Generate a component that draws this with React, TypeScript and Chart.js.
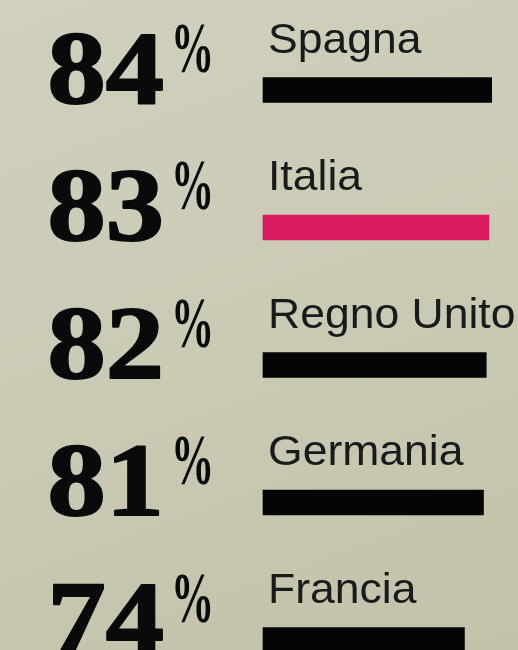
import React, { useEffect, useRef } from "react";
import { Chart, registerables } from "chart.js";

Chart.register(...registerables);

const categories = ["Spagna", "Italia", "Regno Unito", "Germania", "Francia"];
const values = [84, 83, 82, 81, 74];
const barColors = ["#050505", "#dc1a62", "#050505", "#050505", "#050505"];
const valueSuffix = "%";

const labelPlugin = {
  id: "rowLabels",
  afterDatasetsDraw(chart: any) {
    const ctx = chart.ctx as CanvasRenderingContext2D;
    const meta = chart.getDatasetMeta(0);
    meta.data.forEach((bar: any, i: number) => {
      const { y, base, height } = bar.getProps(["x", "y", "base", "height"], true);
      const top = y - height / 2;
      const bottom = y + height / 2;
      ctx.save();
      ctx.fillStyle = "#1a1a1a";
      ctx.textBaseline = "alphabetic";
      // category label
      ctx.save();
      ctx.translate(base + 5, top - 25);
      ctx.scale(1.06, 1);
      ctx.textAlign = "left";
      ctx.font = '400 42px "Liberation Sans", Arial, sans-serif';
      ctx.fillText(categories[i], 0, 0);
      ctx.restore();
      // big value
      ctx.save();
      ctx.fillStyle = "#0a0a0a";
      ctx.strokeStyle = "#0a0a0a";
      ctx.lineWidth = 2;
      ctx.lineJoin = "round";
      ctx.translate(base - 99, bottom);
      ctx.scale(1.12, 1);
      ctx.textAlign = "right";
      ctx.font = 'bold 104px "Liberation Serif", serif';
      ctx.fillText(String(values[i]), 0, 0);
      ctx.strokeText(String(values[i]), 0, 0);
      ctx.restore();
      // superscript %
      ctx.save();
      ctx.fillStyle = "#0a0a0a";
      ctx.translate(base - 92, bottom - 31);
      ctx.scale(0.6, 1);
      ctx.textAlign = "left";
      ctx.font = 'bold 72px "Liberation Serif", serif';
      ctx.fillText(valueSuffix, 0, 0);
      ctx.restore();
      ctx.restore();
    });
  },
};

export default function App() {
  const canvasRef = useRef<HTMLCanvasElement | null>(null);

  useEffect(() => {
    if (!canvasRef.current) return;
    const chart = new Chart(canvasRef.current, {
      type: "bar",
      data: {
        labels: categories,
        datasets: [
          {
            data: values,
            backgroundColor: barColors,
            borderWidth: 0,
            barThickness: 25,
            clip: false as any,
          },
        ],
      },
      options: {
        indexAxis: "y",
        responsive: false,
        animation: false,
        layout: { padding: { left: 263, right: 10, top: 90, bottom: 10 } },
        plugins: {
          legend: { display: false },
          tooltip: { enabled: false },
          title: { display: false },
        },
        scales: {
          x: { display: false, min: 0, max: 90 },
          y: { display: false, offset: false },
        },
      },
      plugins: [labelPlugin],
    });
    return () => chart.destroy();
  }, []);

  return (
    <div
      style={{
        position: "fixed",
        left: 0,
        top: 0,
        width: 518,
        height: 650,
        overflow: "hidden",
        background: "linear-gradient(160deg, #d0d0bd 0%, #cbcab5 50%, #c3c1a9 100%)",
      }}
    >
      <canvas ref={canvasRef} width={518} height={650} style={{ display: "block" }} />
    </div>
  );
}
